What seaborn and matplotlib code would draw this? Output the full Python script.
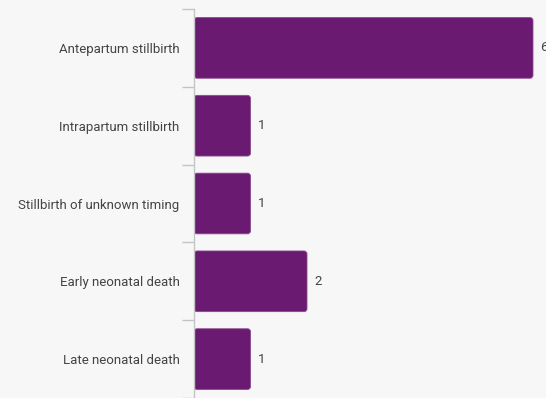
import matplotlib
matplotlib.use("Agg")
import matplotlib.pyplot as plt
import seaborn as sns
import pandas as pd
from matplotlib.patches import FancyBboxPatch

categories = [
    "Antepartum stillbirth",
    "Intrapartum stillbirth",
    "Stillbirth of unknown timing",
    "Early neonatal death",
    "Late neonatal death",
]
counts = [6, 1, 1, 2, 1]

bar_color = "#6b1a72"
bg = "#f7f7f7"
text_color = "#444444"
axis_color = "#c4c4c4"

sns.set_theme(style="white")
plt.rcParams["font.family"] = ["Roboto", "DejaVu Sans"]

df = pd.DataFrame({"category": categories, "count": counts})

fig = plt.figure(figsize=(5.46, 3.98), dpi=100, facecolor=bg)
ax = fig.add_axes([194 / 546, 0.0, (546 - 194) / 546, 1 - 9 / 398])
ax.set_facecolor(bg)

sns.barplot(data=df, x="count", y="category", color=bar_color,
            saturation=1, width=0.78, ax=ax, orient="h")

xmax = 352 / 56.5
ax.set_xlim(0, xmax)
ax.set_ylim(len(categories) - 0.5, -0.5)

# replace plain bars with slightly rounded ones
px_x = xmax / 352
px_y = 5 / 388
for p in list(ax.patches):
    x0, y0 = p.get_x(), p.get_y()
    w, h = p.get_width(), p.get_height()
    p.remove()
    fb = FancyBboxPatch((x0, y0), w, h,
                        boxstyle=f"round,pad=0,rounding_size={3 * px_x}",
                        mutation_aspect=px_y / px_x,
                        facecolor=bar_color, edgecolor="#8a4a8f", linewidth=0.6,
                        zorder=2)
    ax.add_patch(fb)

for i, v in enumerate(counts):
    ax.text(v + 7 * px_x, i, str(v), va="center", ha="left",
            fontsize=9.5, color=text_color)

ax.set_xlabel("")
ax.set_ylabel("")
ax.set_xticks([])
for s in ["top", "right", "bottom"]:
    ax.spines[s].set_visible(False)
ax.spines["left"].set_color(axis_color)
ax.spines["left"].set_linewidth(1)

ax.set_yticks(range(len(categories)))
ax.set_yticklabels(categories, fontsize=9.5, color=text_color)
ax.tick_params(axis="y", which="major", length=0, pad=10.5)
ax.set_yticks([i - 0.5 for i in range(len(categories) + 1)], minor=True)
ax.tick_params(axis="y", which="minor", length=9, width=1, color=axis_color, left=True)

fig.savefig("out.png", dpi=100, facecolor=bg)
